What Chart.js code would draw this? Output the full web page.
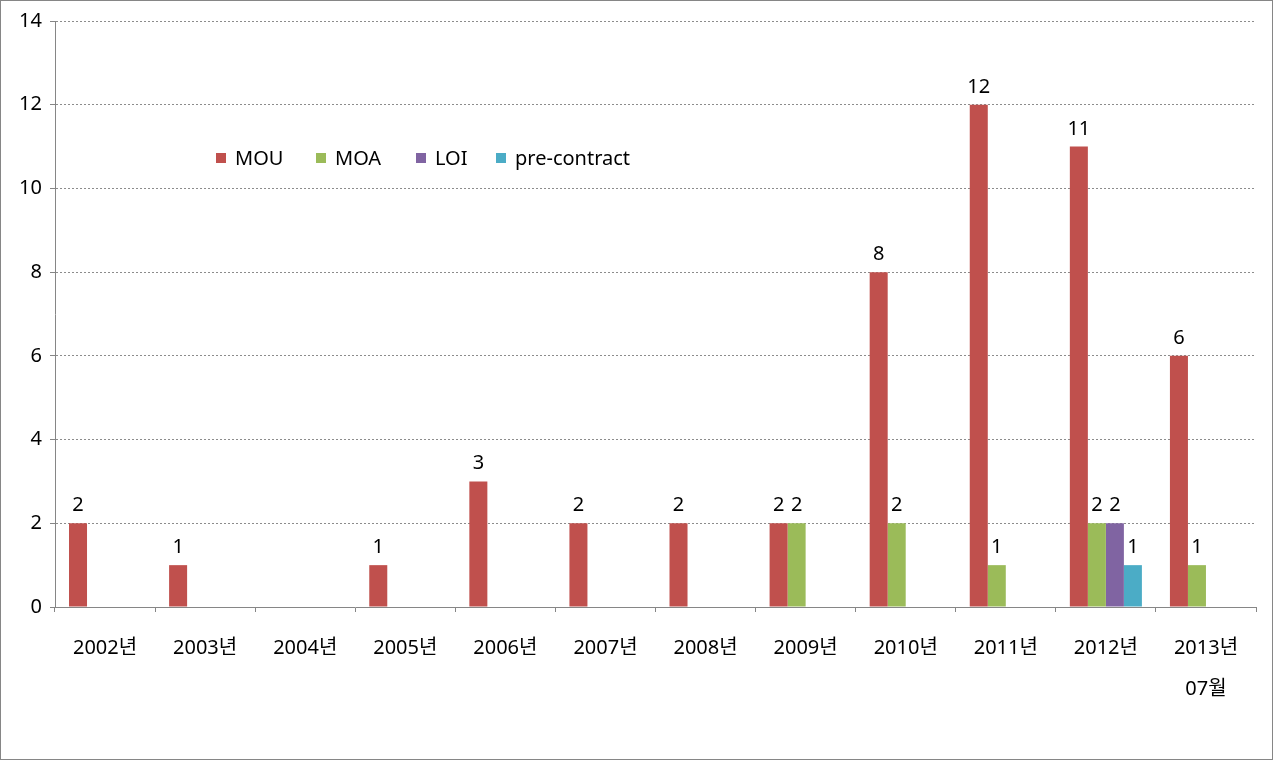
<!DOCTYPE html>
<html lang="ko">
<head>
<meta charset="UTF-8">
<title>MOU / MOA / LOI</title>
<script src="https://cdn.jsdelivr.net/npm/chart.js"></script>
<style>
  html, body { margin: 0; padding: 0; background: #fff; }
  .wrap { width: 1273px; height: 760px; position: relative; }
</style>
</head>
<body>
<div class="wrap"><canvas id="grafico"></canvas></div>

<script>
  // dados do grafico
  const anos = ['2002년', '2003년', '2004년', '2005년', '2006년', '2007년',
                '2008년', '2009년', '2010년', '2011년', '2012년', ['2013년', '07월']];
  const mou = [2, 1, 0, 1, 3, 2, 2, 2, 8, 12, 11, 6];
  const moa = [0, 0, 0, 0, 0, 0, 0, 2, 2, 1, 2, 1];
  const loi = [0, 0, 0, 0, 0, 0, 0, 0, 0, 0, 2, 0];
  const preContract = [0, 0, 0, 0, 0, 0, 0, 0, 0, 0, 1, 0];
  const yTicks = [0, 2, 4, 6, 8, 10, 12, 14];

  const fonte = '"Noto Sans", "Noto Sans CJK KR", sans-serif';

  // rotulos em cima das barras
  const rotulos = {
    id: 'rotulos',
    afterDatasetsDraw(chart) {
      const ctx = chart.ctx;
      ctx.save();
      ctx.font = '20px ' + fonte;
      ctx.fillStyle = '#000';
      ctx.textAlign = 'center';
      ctx.textBaseline = 'alphabetic';
      chart.data.datasets.forEach((ds, i) => {
        chart.getDatasetMeta(i).data.forEach((bar, j) => {
          if (ds.data[j] > 0) ctx.fillText(ds.data[j], bar.x, bar.y - 12);
        });
      });
      ctx.restore();
    }
  };

  // legenda dentro da area do grafico
  const legenda = {
    id: 'legenda',
    afterDraw(chart) {
      const ctx = chart.ctx;
      const xs = [216, 316, 416, 496];
      ctx.save();
      ctx.font = '20px ' + fonte;
      ctx.textBaseline = 'alphabetic';
      chart.data.datasets.forEach((ds, i) => {
        ctx.fillStyle = ds.backgroundColor;
        ctx.fillRect(xs[i], 153, 10, 10);
        ctx.fillStyle = '#000';
        ctx.fillText(ds.label, xs[i] + 19, 165);
      });
      // borda externa
      ctx.strokeStyle = '#868686';
      ctx.lineWidth = 1;
      ctx.strokeRect(0.5, 0.5, chart.width - 1, chart.height - 1);
      ctx.restore();
    }
  };

  new Chart(document.getElementById('grafico'), {
    type: 'bar',
    data: {
      labels: anos,
      datasets: [
        { label: 'MOU', data: mou, backgroundColor: '#C0504D' },
        { label: 'MOA', data: moa, backgroundColor: '#9BBB59' },
        { label: 'LOI', data: loi, backgroundColor: '#8064A2' },
        { label: 'pre-contract', data: preContract, backgroundColor: '#4BACC6' }
      ]
    },
    plugins: [rotulos, legenda],
    options: {
      responsive: true,
      maintainAspectRatio: false,
      animation: false,
      devicePixelRatio: 1,
      categoryPercentage: 0.72,
      barPercentage: 1,
      layout: { padding: { top: 21, right: 17, bottom: 0, left: 0 } },
      plugins: {
        legend: { display: false },
        tooltip: { enabled: false }
      },
      scales: {
        x: {
          grid: {
            offset: true,
            drawOnChartArea: false,
            tickLength: 5,
            tickColor: '#868686',
            color: '#868686'
          },
          border: { color: '#868686' },
          ticks: {
            color: '#000',
            padding: 16,
            maxRotation: 0,
            autoSkip: false,
            font: { family: fonte, size: 20, lineHeight: 2.05 }
          },
          afterFit(scale) { scale.height = 153; }
        },
        y: {
          min: 0,
          max: 14,
          afterBuildTicks(scale) { scale.ticks = yTicks.map(v => ({ value: v })); },
          grid: {
            color: '#8c8c8c',
            tickBorderDash: [],
            tickColor: '#868686',
            tickLength: 5
          },
          border: { color: '#868686', dash: [2, 2] },
          ticks: {
            color: '#000',
            padding: 8,
            font: { family: fonte, size: 20 }
          },
          afterFit(scale) { scale.width = 55; }
        }
      }
    }
  });
</script>
</body>
</html>
